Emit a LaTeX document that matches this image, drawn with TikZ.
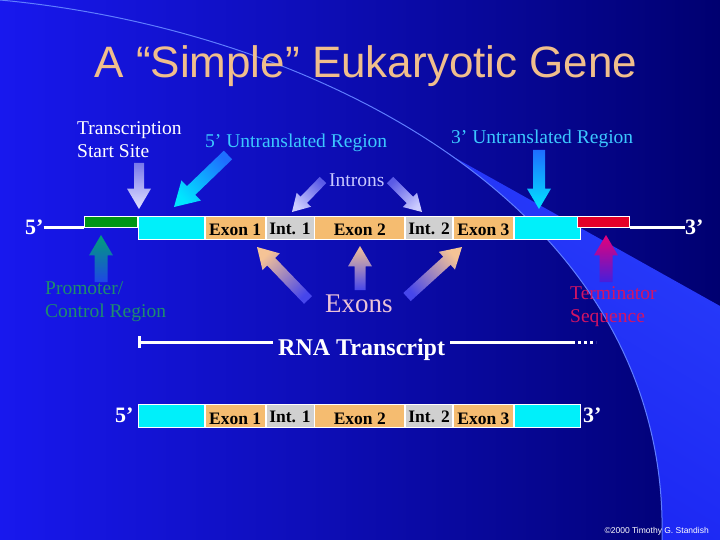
\documentclass[tikz,border=0pt]{standalone}
\usepackage{fontspec}
\setmainfont{Liberation Serif}
\setsansfont{Liberation Sans}
\usetikzlibrary{calc, positioning}
\definecolor{bgLeft}{RGB}{24,24,238}
\definecolor{bgRight}{RGB}{0,0,112}
\definecolor{bgBand}{RGB}{18,22,238}
\definecolor{bgBandEdge}{RGB}{40,60,250}
\definecolor{arcLine}{RGB}{95,125,255}
\definecolor{geneCyan}{RGB}{0,240,250}
\definecolor{geneExon}{RGB}{245,188,112}
\definecolor{geneIntron}{RGB}{208,208,208}
\definecolor{geneGreen}{RGB}{0,150,20}
\definecolor{geneRed}{RGB}{228,0,40}
\definecolor{titleTan}{RGB}{240,190,140}
\definecolor{utrText}{RGB}{60,200,255}
\definecolor{intronText}{RGB}{200,200,255}
\definecolor{exonText}{RGB}{235,195,215}
\definecolor{promText}{RGB}{30,140,110}
\definecolor{termText}{RGB}{210,20,100}
\definecolor{tssTail}{RGB}{120,120,235}
\definecolor{tssHead}{RGB}{225,225,255}
\definecolor{utrTail}{RGB}{30,110,255}
\definecolor{utrHead}{RGB}{0,230,255}
\definecolor{intronTail}{RGB}{90,90,230}
\definecolor{intronHead}{RGB}{205,205,255}
\definecolor{promTail}{RGB}{30,70,230}
\definecolor{promHead}{RGB}{0,160,120}
\definecolor{termTail}{RGB}{70,30,220}
\definecolor{termHead}{RGB}{230,0,120}
\definecolor{exonTail}{RGB}{70,70,235}
\definecolor{exonHead}{RGB}{245,195,150}
\newcommand{\segfont}{\fontsize{17.5}{18}\selectfont\bfseries}
\newcommand{\lblfont}{\fontsize{19.5}{23}\selectfont}
\newcommand{\tipfont}{\fontsize{22}{24}\selectfont\bfseries}
% block arrow: tail, tip, shaft half width, head half width, shading
\newcommand{\blockarrow}[5]{%
  \coordinate (ba) at ($(#2)!{1.7*#4pt}!(#1)$);
  \shade[#5] ($(#1)!#3pt!90:(#2)$) -- ($(ba)!#3pt!90:(#2)$) -- ($(ba)!#4pt!90:(#2)$)
    -- (#2) -- ($(ba)!#4pt!-90:(#2)$) -- ($(ba)!#3pt!-90:(#2)$) -- ($(#1)!#3pt!-90:(#2)$) -- cycle;
}
\tikzset{
  seg/.style       = {draw=white, line width=0.8pt, minimum height=23pt, inner sep=0pt,
                      font=\segfont, text=black},
  exonseg/.style   = {seg, fill=geneExon, text height=20pt, text depth=3pt},
  intronseg/.style = {seg, fill=geneIntron, text height=18pt, text depth=5pt},
  utrseg/.style    = {seg, fill=geneCyan},
  lbl/.style       = {font=\lblfont, inner sep=0pt, align=left},
  endlbl/.style    = {font=\tipfont, inner sep=0pt, text=white},
  dna/.style       = {white, line width=3pt},
  tssShade/.style  = {top color=tssHead, bottom color=tssTail, shading angle=180},
  utr5Shade/.style = {top color=utrHead, bottom color=utrTail, shading angle=132},
  intLShade/.style = {top color=intronHead, bottom color=intronTail, shading angle=136},
  intRShade/.style = {top color=intronHead, bottom color=intronTail, shading angle=-135},
  utr3Shade/.style = {top color=utrHead, bottom color=utrTail, shading angle=180},
  promShade/.style = {top color=promHead, bottom color=promTail, shading angle=0},
  termShade/.style = {top color=termHead, bottom color=termTail, shading angle=0},
  exLShade/.style  = {top color=exonHead, bottom color=exonTail, shading angle=44},
  exMShade/.style  = {top color=exonHead, bottom color=exonTail, shading angle=0},
  exRShade/.style  = {top color=exonHead, bottom color=exonTail, shading angle=-48},
}

\begin{document}
\begin{tikzpicture}[x=1pt, y=-1pt]
  \useasboundingbox (0,0) rectangle (720,540);
  % background
  \shade[left color=bgLeft, right color=bgRight] (0,0) rectangle (720,540);
  \begin{scope}
    \clip (0,0) .. controls (320,30) and (670,210) .. (662,540) -- (720,540) -- (720,0) -- cycle;
    \shade[top color=bgBandEdge, bottom color=bgBand, shading angle=-31]
      (400,127) -- (720,306) -- (720,540) -- (0,540) -- cycle;
  \end{scope}
  \draw[arcLine, line width=1pt] (0,0) .. controls (320,30) and (670,210) .. (662,540);
  % title
  \node[font=\sffamily\fontsize{44}{48}\selectfont, text=titleTan, anchor=base] (title)
    at (366,78) {A “Simple” Eukaryotic Gene};

  % gene
  \node[seg, fill=geneGreen, minimum width=53pt, minimum height=11pt, anchor=north west] (promBox) at (84,216) {};
  \node[utrseg, minimum width=66pt, anchor=west] (utr5) at (138,227.5) {};
  \node[exonseg, minimum width=60pt, right=0pt of utr5] (ex1) {Exon 1};
  \node[intronseg, minimum width=48pt, right=0pt of ex1] (in1) {Int. 1};
  \node[exonseg, minimum width=90pt, right=0pt of in1] (ex2) {Exon 2};
  \node[intronseg, minimum width=47pt, right=0pt of ex2] (in2) {Int. 2};
  \node[exonseg, minimum width=60pt, right=0pt of in2] (ex3) {Exon 3};
  \node[utrseg, minimum width=66pt, right=0pt of ex3] (utr3) {};
  \node[seg, fill=geneRed, minimum width=52pt, minimum height=11pt, anchor=north west] (termBox) at (577,216) {};
  \node[endlbl, anchor=base west] (fiveTop) at (25,235) {5’};
  \node[endlbl, anchor=base west] (threeTop) at (685,235) {3’};
  \draw[dna] (fiveTop.east |- promBox.south west) -- (promBox.south west);
  \draw[dna] (termBox.south east) -- (termBox.south east -| threeTop.west);

  % labels above
  \node[lbl, text=white, anchor=north west] (tssLbl) at (77,121.5) {Transcription\\Start Site};
  \node[lbl, text=utrText, anchor=base west] (utr5Lbl) at (205,148) {5’ Untranslated Region};
  \node[lbl, text=utrText, anchor=base west] (utr3Lbl) at (451,144) {3’ Untranslated Region};
  \node[lbl, text=intronText, anchor=base west] (intLbl) at (329,187) {Introns};
  % labels below
  \node[lbl, text=promText, anchor=north west] (promLbl) at (45,281.5) {Promoter/\\Control Region};
  \node[lbl, text=termText, anchor=north west] (termLbl) at (570,286.5) {Terminator\\Sequence};
  \node[lbl, text=exonText, font=\fontsize{27}{30}\selectfont, anchor=base west] (exLbl) at (325,312) {Exons};

  % arrows
  \coordinate (tssTail) at (139,163);   \coordinate (tssTip) at (139,209);
  \coordinate (utr5Tail) at (228,155);  \coordinate (utr5Tip) at (174,207);
  \coordinate (intLTail) at (323,180);  \coordinate (intLTip) at (292,212);
  \coordinate (intRTail) at (390,180);  \coordinate (intRTip) at (422,212);
  \coordinate (utr3Tail) at (539,150);  \coordinate (utr3Tip) at (539,209);
  \coordinate (promTail) at (101,282);  \coordinate (promTip) at (101,235);
  \coordinate (termTail) at (606,282);  \coordinate (termTip) at (606,235);
  \coordinate (exLTail) at (308,300);   \coordinate (exLTip) at (257,247);
  \coordinate (exMTail) at (360,290);   \coordinate (exMTip) at (360,246);
  \coordinate (exRTail) at (407,297);   \coordinate (exRTip) at (462,247);
  \blockarrow{tssTail}{tssTip}{5}{12}{tssShade}
  \blockarrow{utr5Tail}{utr5Tip}{6}{14}{utr5Shade}
  \blockarrow{intLTail}{intLTip}{4.5}{10}{intLShade}
  \blockarrow{intRTail}{intRTip}{4.5}{10}{intRShade}
  \blockarrow{utr3Tail}{utr3Tip}{6}{12}{utr3Shade}
  \blockarrow{promTail}{promTip}{6.5}{12}{promShade}
  \blockarrow{termTail}{termTip}{6.5}{12}{termShade}
  \blockarrow{exLTail}{exLTip}{5.5}{12}{exLShade}
  \blockarrow{exMTail}{exMTip}{5.5}{12}{exMShade}
  \blockarrow{exRTail}{exRTip}{5.5}{12}{exRShade}

  % RNA transcript
  \node[lbl, text=white, font=\fontsize{24}{26}\selectfont\bfseries, anchor=base west] (rnaLbl) at (278,355) {RNA Transcript};
  \coordinate (rnaStart) at (139,342);
  \coordinate (rnaEnd) at (575,342);
  \draw[dna] ($(rnaStart)+(0,-6)$) -- ($(rnaStart)+(0,6)$);
  \draw[dna] ([xshift=-5pt]rnaStart -| rnaLbl.west) -- (rnaStart);
  \draw[dna] ([xshift=5pt]rnaEnd -| rnaLbl.east) -- (rnaEnd);
  \draw[dna, dash pattern=on 3pt off 3pt] ($(rnaEnd)+(3,0)$) -- ++(18,0);

  % mature transcript
  \node[utrseg, minimum width=66pt, anchor=west] (butr5) at (138,415.5) {};
  \node[exonseg, minimum width=60pt, right=0pt of butr5] (bex1) {Exon 1};
  \node[intronseg, minimum width=48pt, right=0pt of bex1] (bin1) {Int. 1};
  \node[exonseg, minimum width=90pt, right=0pt of bin1] (bex2) {Exon 2};
  \node[intronseg, minimum width=47pt, right=0pt of bex2] (bin2) {Int. 2};
  \node[exonseg, minimum width=60pt, right=0pt of bin2] (bex3) {Exon 3};
  \node[utrseg, minimum width=66pt, right=0pt of bex3] (butr3) {};
  \node[endlbl, anchor=base west] (fiveBot) at (115,422) {5’};
  \node[endlbl, anchor=base west] (threeBot) at (583,422) {3’};

  \node[font=\sffamily\fontsize{8.5}{9}\selectfont, text=white, inner sep=0pt, anchor=base east] (credit)
    at (709,533) {©2000 Timothy G. Standish};
\end{tikzpicture}
\end{document}
